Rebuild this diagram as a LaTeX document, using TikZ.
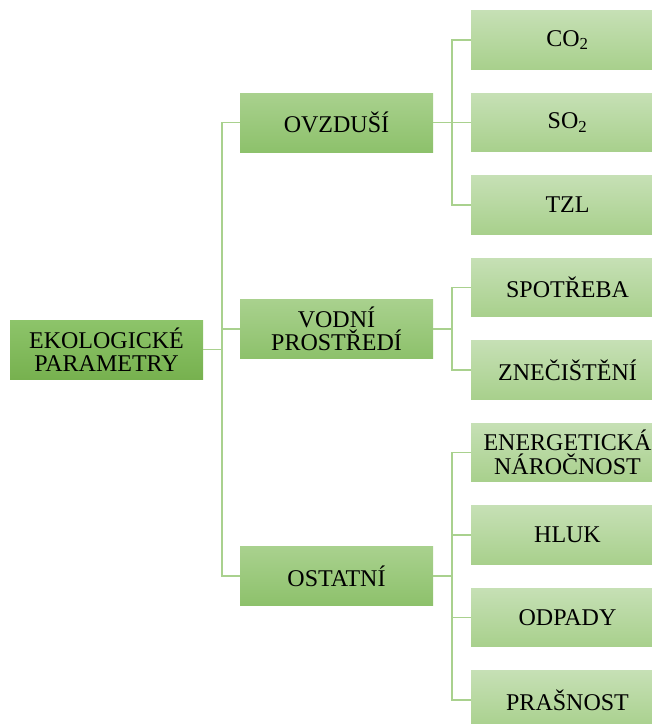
\documentclass[tikz,border=0pt]{standalone}
\usepackage{fontspec}
\setmainfont{Liberation Serif}
\definecolor{rootT}{HTML}{8DC46A}
\definecolor{rootB}{HTML}{77B14F}
\definecolor{midT}{HTML}{A9D18E}
\definecolor{midB}{HTML}{8DC16B}
\definecolor{leafT}{HTML}{C6E0B5}
\definecolor{leafB}{HTML}{A8D08C}
\definecolor{lineC}{HTML}{A9D18E}
\begin{document}
\begin{tikzpicture}[x=1pt,y=-1pt,
 box/.style={rectangle, minimum width=193pt, minimum height=59pt, inner sep=0pt, align=center, font=\fontsize{24}{23.5}\selectfont, text=black},
 rootbox/.style={box, top color=rootT, bottom color=rootB},
 midbox/.style={box, top color=midT, bottom color=midB},
 leafbox/.style={box, minimum height=58.5pt, top color=leafT, bottom color=leafB},
 link/.style={draw=lineC, line width=1.8pt}]
\useasboundingbox (0,0) rectangle (652,724);
\node[rootbox] (root) at (106.5,349.5) {EKOLOGICKÉ\\PARAMETRY};
\node[midbox] (ovz) at (336.5,122.5) {OVZDUŠÍ};
\node[midbox] (vod) at (336.5,328.75) {VODNÍ\\PROSTŘEDÍ};
\node[midbox] (ost) at (336.5,576.25) {OSTATNÍ};
\node[leafbox] (co) at (567.5,40) {CO\textsubscript{2}};
\node[leafbox] (so) at (567.5,122.5) {SO\textsubscript{2}};
\node[leafbox] (tzl) at (567.5,205) {TZL};
\node[leafbox] (spo) at (567.5,287.5) {SPOTŘEBA};
\node[leafbox] (zne) at (567.5,370) {ZNEČIŠTĚNÍ};
\node[leafbox] (ene) at (567.5,452.5) {ENERGETICKÁ\\NÁROČNOST};
\node[leafbox] (hlu) at (567.5,535) {HLUK};
\node[leafbox] (odp) at (567.5,617.5) {ODPADY};
\node[leafbox] (pra) at (567.5,700) {PRAŠNOST};
\coordinate (j0) at (222,349.5);
\coordinate (j1) at (452,122.5);
\coordinate (j2) at (452,328.75);
\coordinate (j3) at (452,576.25);
\draw[link] (root.east) -- (j0);
\draw[link] (j0) |- (ovz.west);
\draw[link] (j0) |- (vod.west);
\draw[link] (j0) |- (ost.west);
\draw[link] (ovz.east) -- (j1);
\draw[link] (vod.east) -- (j2);
\draw[link] (ost.east) -- (j3);
\foreach \n in {co,so,tzl} \draw[link] (j1) |- (\n.west);
\foreach \n in {spo,zne} \draw[link] (j2) |- (\n.west);
\foreach \n in {ene,hlu,odp,pra} \draw[link] (j3) |- (\n.west);
\end{tikzpicture}
\end{document}
